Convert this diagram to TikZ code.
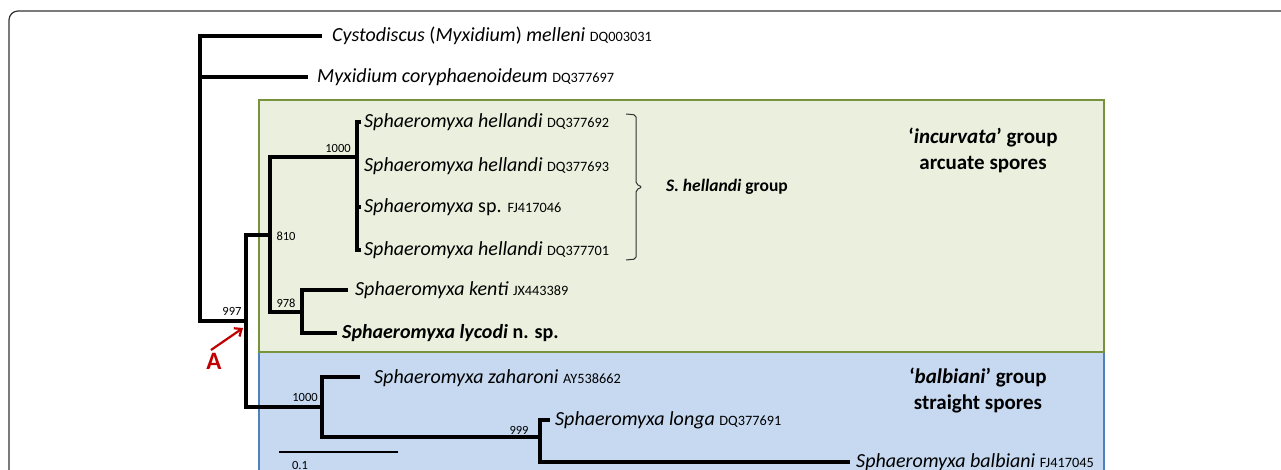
\documentclass[tikz,border=0pt]{standalone}
\usepackage{fontspec}
\setmainfont{Carlito}
\usetikzlibrary{arrows.meta}
\definecolor{gfill}{RGB}{235,239,222}
\definecolor{gline}{RGB}{119,147,60}
\definecolor{bfill}{RGB}{198,217,241}
\definecolor{bline}{RGB}{79,129,189}
\definecolor{redA}{RGB}{192,0,0}
\definecolor{framec}{RGB}{50,50,50}
\newcommand\acc[1]{{\fontsize{14.3}{16}\selectfont #1}}
\begin{document}
\begin{tikzpicture}[x=1pt,y=-1pt,
  branch/.style={line width=3.2pt, line join=miter},
  leaf/.style={anchor=west, inner sep=0pt, font=\fontsize{20}{23}\selectfont},
  boot/.style={inner sep=0pt, font=\fontsize{12.5}{14}\selectfont},
  grouplbl/.style={inner sep=0pt, align=center, font=\fontsize{21}{26}\selectfont\bfseries},
  framebox/.style={draw=framec, line width=1.2pt, rounded corners=9pt}]
\useasboundingbox (0,0) rectangle (1281,470);
\clip (0,0) rectangle (1281,470);
\draw[framebox] (9,11) rectangle (1310,520);
% group boxes
\draw[fill=bfill, draw=bline, line width=1.2pt] (259,352) rectangle (1104,520);
\draw[fill=gfill, draw=gline, line width=1.5pt] (259,100) rectangle (1104,352);
% internal nodes
\coordinate (p0) at (200,200);
\coordinate (n997) at (246,321);
\coordinate (n810) at (270,235);
\coordinate (n1000a) at (357,157);
\coordinate (n978) at (302,312);
\coordinate (n1000b) at (322,407);
\coordinate (n999) at (540,437);
% tips
\coordinate (tcyst) at (322,36);
\coordinate (tmyx) at (308,77);
\coordinate (th1) at (361,122);
\coordinate (th2) at (358,166);
\coordinate (tsp) at (361,207);
\coordinate (th3) at (361,250);
\coordinate (tken) at (348,290);
\coordinate (tlyc) at (337,333);
\coordinate (tzah) at (360,377);
\coordinate (tlon) at (550,420);
\coordinate (tbal) at (850,462);
% leaves
\node[leaf] (cyst) at (332,36) {\textit{Cystodiscus} (\textit{Myxidium}) \textit{melleni} \acc{DQ003031}};
\node[leaf] (myx) at (317,77) {\textit{Myxidium coryphaenoideum} \acc{DQ377697}};
\node[leaf] (h1) at (364,122) {\textit{Sphaeromyxa hellandi} \acc{DQ377692}};
\node[leaf] (h2) at (364,166) {\textit{Sphaeromyxa hellandi} \acc{DQ377693}};
\node[leaf] (sp) at (364,207) {\textit{Sphaeromyxa} sp. \acc{FJ417046}};
\node[leaf] (h3) at (364,250) {\textit{Sphaeromyxa hellandi} \acc{DQ377701}};
\node[leaf] (ken) at (355,290) {\textit{Sphaeromyxa kenti} \acc{JX443389}};
\node[leaf] (lyc) at (342,333) {\textbf{\textit{Sphaeromyxa lycodi} n. sp.}};
\node[leaf] (zah) at (374,378) {\textit{Sphaeromyxa zaharoni} \acc{AY538662}};
\node[leaf] (lon) at (555,420) {\textit{Sphaeromyxa longa} \acc{DQ377691}};
\node[leaf] (bal) at (856,462) {\textit{Sphaeromyxa balbiani} \acc{FJ417045}};
% branches
\draw[branch] (p0) |- (tcyst);
\draw[branch] (p0) |- (tmyx);
\draw[branch] (p0) |- (n997);
\draw[branch] (n997) |- (n810);
\draw[branch] (n997) |- (n1000b);
\draw[branch] (n810) |- (n1000a);
\draw[branch] (n810) |- (n978);
\draw[branch] (n1000a) |- (th1);
\draw[branch] (n1000a) |- (th2);
\draw[branch] (n1000a) |- (tsp);
\draw[branch] (n1000a) |- (th3);
\draw[branch] (n978) |- (tken);
\draw[branch] (n978) |- (tlyc);
\draw[branch] (n1000b) |- (tzah);
\draw[branch] (n1000b) |- (n999);
\draw[branch] (n999) |- (tlon);
\draw[branch] (n999) |- (tbal);
% bootstrap values
\node[boot] (b997) at (232,311) {997};
\node[boot] (b810) at (286,236) {810};
\node[boot] (b1000a) at (338,148) {1000};
\node[boot] (b978) at (286,303) {978};
\node[boot] (b1000b) at (305,397) {1000};
\node[boot] (b999) at (519,430) {999};
% scale bar
\coordinate (s1) at (279,452);
\coordinate (s2) at (398,452);
\draw[line width=2pt] (s1) -- (s2);
\node[boot] (sbl) at (300,465) {0.1};
% bracket for S. hellandi group
\node[anchor=west, inner sep=0pt, font=\fontsize{17.5}{20}\selectfont\bfseries] (shg) at (666,187) {\textit{S. hellandi} group};
\draw[line width=1pt, draw=framec, rounded corners=2pt] (626,114) -- (636,115) -- (636,184) -- (642,187) -- (636,190) -- (636,259) -- (626,260);
% group labels
\node[grouplbl] (ginc) at (983,150) {‘\textit{incurvata}’ group\\arcuate spores};
\node[grouplbl] (gbal) at (978,391) {‘\textit{balbiani}’ group\\straight spores};
% arrow A
\node[inner sep=0pt, text=redA, font=\fontsize{25}{28}\selectfont\bfseries] (lA) at (214,361) {A};
\coordinate (atail) at (211,350);
\coordinate (ahead) at (243,328);
\draw[redA, line width=2.2pt, -{Straight Barb[length=6pt,width=10pt]}] (atail) -- (ahead);
\end{tikzpicture}
\end{document}
